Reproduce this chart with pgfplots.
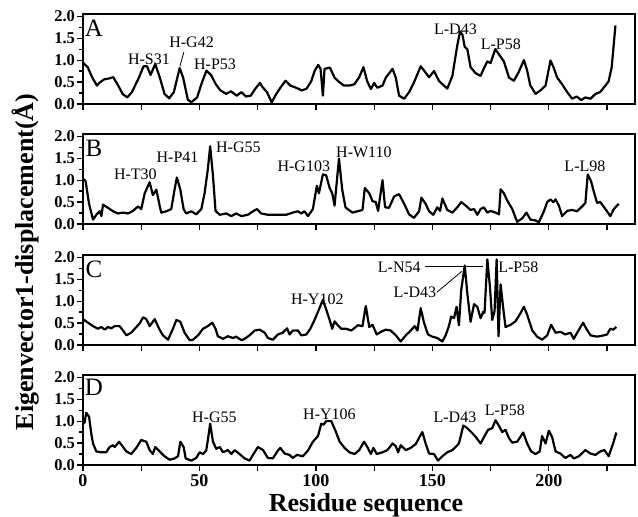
\documentclass[border=0pt]{standalone}
\usepackage{fontspec}
\setmainfont{Liberation Serif}
\usepackage{pgfplots}
\pgfplotsset{compat=1.18}
\pgfplotsset{panel/.style={
  scale only axis, width=552pt, height=90pt,
  xmin=0, xmax=237, ymin=0, ymax=2.05,
  axis line style={line width=1.6pt},
  every tick/.style={black, line width=1.2pt},
  tick align=outside, xtick pos=bottom, ytick pos=left,
  major tick length=6pt, minor tick length=3.5pt,
  xtick={0,50,100,150,200},
  extra x ticks={25,75,125,175,225}, extra x tick labels={},
  ytick={0,0.5,1,1.5,2}, minor ytick={0.25,0.75,1.25,1.75},
  yticklabel={\pgfmathprintnumber[fixed,fixed zerofill,precision=1,assume math mode=true]{\tick}},
  xticklabel={\pgfmathprintnumber[assume math mode=true]{\tick}},
  yticklabel style={font=\bfseries\fontsize{16.5}{16.5}\selectfont},
  xticklabel style={font=\bfseries\fontsize{18}{18}\selectfont},
  yticklabel shift=-1.5pt,
  anchor=south west,
},
curve/.style={black, line width=2.2pt, line join=round, no marks}}
\newcommand{\ann}{\fontsize{16}{16}\selectfont}
\newcommand{\pl}{\fontsize{25}{25}\selectfont}
\begin{document}
\begin{tikzpicture}
\useasboundingbox (0,0) rectangle (638pt,-517pt);
% Panel A
\begin{axis}[panel, at={(83pt,-104pt)}, xticklabels={}]
\addplot[curve] coordinates {(0,0.94)(2,0.84)(4,0.6)(6,0.42)(7,0.48)(9,0.56)(11,0.58)(13,0.61)(15,0.43)(17,0.23)(19,0.15)(21,0.27)(24,0.6)(26,0.86)(27.5,0.86)(29,0.66)(31,0.91)(33,0.6)(35,0.23)(37,0.13)(39,0.27)(41.5,0.82)(43,0.6)(45,0.1)(46.5,0.04)(49,0.15)(51,0.48)(53,0.76)(55,0.66)(57,0.45)(59,0.31)(61.5,0.23)(63.5,0.29)(66,0.19)(68,0.27)(70,0.17)(72,0.19)(74,0.35)(76,0.48)(77,0.39)(79,0.27)(81,0.04)(83,0.23)(85,0.39)(87,0.53)(89,0.42)(91.5,0.37)(94,0.31)(96,0.35)(98,0.52)(99.5,0.76)(101,0.89)(102,0.8)(103,0.19)(103.7,0.8)(106,0.83)(108,0.6)(110,0.5)(112,0.42)(114.5,0.42)(116.5,0.45)(118.6,0.61)(120.4,0.84)(122,0.52)(123.6,0.34)(125,0.48)(126.4,0.37)(128.6,0.42)(130,0.6)(132.9,0.8)(134.3,0.6)(135.7,0.19)(137.9,0.12)(140,0.27)(142,0.48)(145,0.86)(147,0.72)(148.6,0.61)(150.7,0.75)(152.9,0.52)(155,0.42)(156.4,0.35)(158.6,0.64)(160.7,1.34)(161.9,1.65)(162.9,1.58)(163.9,1.3)(165,1.25)(166.4,0.84)(168.6,0.7)(170.7,0.64)(172,0.8)(173.6,0.97)(175,0.93)(177,1.25)(178.6,1.13)(180.7,0.97)(182.9,0.6)(185,0.53)(187,0.72)(189.3,1.0)(190.7,0.76)(192,0.43)(194.3,0.23)(196.4,0.31)(198.6,0.42)(200.7,0.99)(202,0.84)(203.6,0.6)(205.7,0.45)(207.9,0.27)(210,0.12)(212,0.17)(213.9,0.09)(215.7,0.15)(217.9,0.12)(220,0.23)(222,0.27)(224.3,0.42)(225.7,0.52)(227,0.84)(228.6,1.79)};
\node[font=\pl] at (axis cs:4.7,1.72) {A};
\node[font=\ann] at (axis cs:28.3,1.02) {H-S31};
\node[font=\ann] at (axis cs:46.6,1.41) {H-G42};
\draw[line width=0.8pt] (axis cs:43.3,1.18) -- (axis cs:41.6,0.86);
\node[font=\ann] at (axis cs:56.7,0.91) {H-P53};
\node[font=\ann] at (axis cs:159.9,1.70) {L-D43};
\node[font=\ann] at (axis cs:179.4,1.36) {L-P58};
\end{axis}
% Panel B
\begin{axis}[panel, at={(83pt,-224pt)}, xticklabels={}]
\addplot[curve] coordinates {(0,1.03)(1.1,0.98)(2.6,0.46)(4.3,0.1)(5.7,0.21)(7.2,0.29)(7.9,0.18)(8.6,0.44)(10.7,0.37)(12.9,0.29)(15,0.24)(17.2,0.26)(19.3,0.24)(21.5,0.3)(23.6,0.4)(25,0.34)(26.5,0.7)(28.6,0.95)(30,0.66)(31.5,0.78)(32.9,0.42)(33.6,0.26)(35.8,0.29)(37.9,0.34)(39.3,0.78)(40.3,1.06)(41.8,0.78)(43.2,0.34)(44.3,0.24)(46.5,0.29)(48.6,0.22)(50.8,0.34)(52.2,0.7)(53.6,1.25)(54.6,1.77)(55.8,1.1)(56.9,0.3)(58.7,0.21)(61.5,0.24)(63.7,0.18)(65.8,0.24)(68,0.18)(70.8,0.21)(73,0.29)(74.7,0.34)(76.5,0.24)(79.4,0.21)(83,0.21)(87.3,0.21)(90.1,0.26)(92.3,0.29)(93.7,0.24)(95.1,0.29)(96.6,0.18)(98.7,0.34)(100.4,0.87)(101.3,0.7)(103,1.13)(104.4,1.11)(105.9,0.82)(107,0.7)(108,0.42)(109.9,1.49)(111.3,0.78)(112.7,0.38)(113.6,0.34)(115.7,0.26)(117.9,0.29)(120,0.32)(121,0.82)(122.9,0.7)(124.3,0.52)(125.7,0.5)(126.7,0.3)(128.6,1.0)(129.7,0.38)(131.4,0.37)(133.6,0.63)(135.7,0.68)(137.9,0.46)(140,0.22)(142.1,0.14)(144.3,0.29)(145.3,0.6)(147.1,0.46)(148.6,0.29)(150.4,0.21)(152.1,0.38)(153.3,0.3)(154.3,0.58)(156.4,0.32)(158.6,0.26)(160.7,0.38)(162.4,0.5)(164.3,0.42)(166.4,0.32)(167.9,0.34)(169.3,0.21)(170.7,0.34)(172.1,0.38)(173.6,0.26)(175,0.3)(177.1,0.26)(178.6,0.22)(179.3,0.79)(180.7,0.7)(182.1,0.54)(184.3,0.34)(186.4,0.05)(188.6,0.13)(190.4,0.26)(192.1,0.1)(194.3,0.08)(195.7,0.04)(197.9,0.29)(199.3,0.5)(200.7,0.56)(201.9,0.5)(202.9,0.56)(204.3,0.42)(205.7,0.18)(207.9,0.3)(210,0.32)(212.1,0.29)(214.3,0.4)(215.7,0.48)(216.7,1.13)(218.1,0.98)(219.3,0.74)(220.7,0.48)(222.1,0.5)(224.3,0.34)(226.4,0.18)(227.9,0.34)(230,0.46)};
\node[font=\pl] at (axis cs:4.7,1.72) {B};
\node[font=\ann] at (axis cs:22.5,1.14) {H-T30};
\node[font=\ann] at (axis cs:40.6,1.53) {H-P41};
\node[font=\ann] at (axis cs:66.7,1.74) {H-G55};
\node[font=\ann] at (axis cs:94.8,1.31) {H-G103};
\node[font=\ann] at (axis cs:120.6,1.63) {H-W110};
\node[font=\ann] at (axis cs:215.5,1.32) {L-L98};
\end{axis}
% Panel C
\begin{axis}[panel, at={(83pt,-345pt)}, xticklabels={}]
\addplot[curve] coordinates {(0,0.59)(2.1,0.51)(4.3,0.43)(6.4,0.37)(7.9,0.41)(9.3,0.35)(10.7,0.41)(12.2,0.38)(13.6,0.43)(15.7,0.43)(17.2,0.33)(18.6,0.22)(20.7,0.28)(22.9,0.41)(24.3,0.49)(25.8,0.63)(27.2,0.59)(28.6,0.43)(30.8,0.59)(32.6,0.38)(34.3,0.22)(36.5,0.12)(38.6,0.37)(40.1,0.57)(41.8,0.53)(43.6,0.28)(45.8,0.11)(47.2,0.12)(49.4,0.22)(51.5,0.37)(53.6,0.43)(55.5,0.51)(56.9,0.37)(57.9,0.2)(60.1,0.14)(62.2,0.2)(64.4,0.16)(65.8,0.19)(68,0.11)(69.4,0.14)(71.5,0.22)(73.7,0.33)(75.8,0.35)(78,0.28)(79.4,0.16)(81.5,0.12)(83.7,0.24)(85.8,0.28)(87.6,0.38)(88.7,0.24)(90.1,0.33)(92.3,0.33)(93.7,0.22)(95.9,0.24)(97.6,0.37)(99.4,0.57)(101.3,0.81)(103,1.03)(104.4,0.81)(105.9,0.57)(107,0.37)(108,0.54)(109.4,0.45)(110.9,0.37)(113,0.37)(115.2,0.33)(118,0.45)(120,0.43)(121.4,0.89)(122.9,0.41)(124.3,0.46)(126.1,0.24)(127.9,0.3)(130,0.35)(132.1,0.33)(134.3,0.22)(136.4,0.08)(138.6,0.22)(140.7,0.33)(142.4,0.43)(143.6,0.33)(145,0.84)(146.4,0.51)(148.1,0.24)(150,0.19)(152.1,0.16)(154.3,0.08)(155.7,0.22)(157.1,0.43)(158.1,0.65)(159.3,0.61)(160.4,0.87)(161.4,0.45)(162.4,1.26)(163.9,1.81)(165,1.18)(166.4,0.53)(167.9,0.93)(169.3,0.87)(170.7,0.61)(171.9,0.76)(172.4,0.73)(173.6,1.95)(174.7,1.34)(175.7,0.57)(176.7,0.77)(177.6,1.95)(178.4,0.2)(179.3,1.38)(180.4,0.85)(181.4,0.41)(183.6,0.46)(185.7,0.54)(187.9,0.73)(189.3,0.87)(190.7,0.69)(192.9,0.33)(195,0.19)(197.1,0.12)(199.3,0.22)(201,0.46)(202.9,0.28)(205,0.3)(207.1,0.24)(209.3,0.28)(210.7,0.14)(212.4,0.3)(214.7,0.51)(216.1,0.37)(217.9,0.22)(220.7,0.19)(223.6,0.22)(225,0.24)(226.4,0.37)(227.6,0.35)(229,0.41)};
\node[font=\pl] at (axis cs:4.7,1.73) {C};
\node[font=\ann] at (axis cs:100.6,1.05) {H-Y102};
\node[font=\ann] at (axis cs:135.8,1.78) {L-N54};
\draw[line width=0.8pt] (axis cs:146.8,1.80) -- (axis cs:171.7,1.80);
\node[font=\ann] at (axis cs:186.9,1.78) {L-P58};
\node[font=\ann] at (axis cs:142.5,1.20) {L-D43};
\draw[line width=0.8pt] (axis cs:151.9,1.20) -- (axis cs:162.7,1.68);
\end{axis}
% Panel D
\begin{axis}[panel, at={(83pt,-465pt)}]
\addplot[curve] coordinates {(0,0.94)(0.7,0.97)(1.4,1.19)(2.6,1.1)(3.6,0.7)(4.3,0.49)(5.7,0.31)(7.9,0.29)(10,0.29)(11.4,0.41)(12.9,0.45)(13.6,0.41)(15.5,0.53)(17.2,0.41)(18.6,0.31)(20.7,0.25)(22.9,0.39)(25,0.57)(27.2,0.53)(28.6,0.34)(30,0.25)(31,0.41)(32.9,0.31)(35,0.2)(37.2,0.12)(39.3,0.15)(40.8,0.2)(41.8,0.53)(43.2,0.41)(44.1,0.15)(46.5,0.1)(48.6,0.16)(50.1,0.29)(51.5,0.25)(52.9,0.33)(53.6,0.57)(54.6,0.94)(55.8,0.53)(57.2,0.37)(58.7,0.41)(60.1,0.29)(62.2,0.34)(63.7,0.25)(65.1,0.34)(67.2,0.25)(69.4,0.15)(71.5,0.1)(73.2,0.25)(75.1,0.41)(77.3,0.34)(79.4,0.16)(81.5,0.15)(83.7,0.33)(84.7,0.39)(86.6,0.26)(88.7,0.23)(90.1,0.16)(91.8,0.23)(94.4,0.2)(96.6,0.33)(98.7,0.53)(100.9,0.66)(102.3,0.94)(103.3,0.92)(104.4,1.0)(106.6,1.0)(108.4,0.78)(110.2,0.53)(112.3,0.39)(114.4,0.29)(116.6,0.25)(118.6,0.34)(120.7,0.53)(122.1,0.41)(123.6,0.25)(124.7,0.39)(126.1,0.25)(128.6,0.29)(130.7,0.34)(132.9,0.49)(134.3,0.43)(135.3,0.29)(136.4,0.45)(138.6,0.34)(140.7,0.39)(142.9,0.48)(144.7,0.66)(145.7,0.75)(147.1,0.49)(148.6,0.26)(150.7,0.25)(152.4,0.1)(154.3,0.2)(156.4,0.29)(158.6,0.34)(160,0.41)(161.4,0.49)(163.3,0.9)(165,0.84)(166.7,0.75)(168.6,0.64)(170.7,0.49)(172.4,0.66)(173.9,0.8)(175.7,0.84)(177.1,1.02)(178.6,0.89)(180,0.75)(181.4,0.8)(182.9,0.61)(184.3,0.51)(186.4,0.53)(189,0.74)(190.7,0.49)(192.4,0.31)(194.3,0.25)(196.1,0.31)(197.1,0.66)(198.6,0.49)(200,0.78)(201.4,0.64)(202.9,0.31)(205,0.26)(207.1,0.16)(209.3,0.23)(210.7,0.15)(212.9,0.2)(215.7,0.34)(217.9,0.26)(220,0.23)(222.1,0.31)(223.9,0.34)(225.7,0.2)(227.6,0.49)(229,0.74)};
\node[font=\pl] at (axis cs:4.7,1.76) {D};
\node[font=\ann] at (axis cs:56.4,1.08) {H-G55};
\node[font=\ann] at (axis cs:105.8,1.16) {H-Y106};
\node[font=\ann] at (axis cs:159.7,1.08) {L-D43};
\node[font=\ann] at (axis cs:181.1,1.25) {L-P58};
\end{axis}
\node[anchor=base, font=\bfseries\fontsize{26}{26}\selectfont] at (366pt,-511pt) {Residue sequence};
\node[anchor=base, rotate=90, font=\bfseries\fontsize{26}{26}\selectfont] at (33pt,-262pt) {Eigenvector1-displacement(Å)};
\end{tikzpicture}
\end{document}
